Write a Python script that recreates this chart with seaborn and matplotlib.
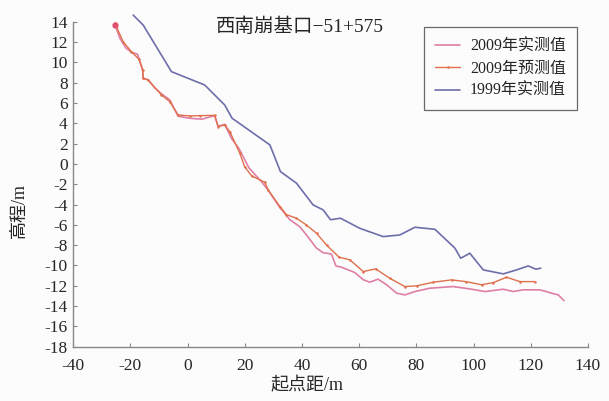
import numpy as np
import pandas as pd
import seaborn as sns
import matplotlib.pyplot as plt

# ----------------------------------------------------------------------------
# data
# ----------------------------------------------------------------------------
x_meas_2009 = [-25.4, -23.5, -21.5, -19.6, -17.5, -16.5, -15.7, -15.5, -13.8, -11.5,
               -9.1, -6.2, -3.3, 0.5, 5.0, 9.5, 10.7, 13.0, 15.4, 18.0,
               21.5, 26.0, 28.2, 32.3, 35.8, 39.3, 41.6, 45.1, 47.4, 50.3,
               51.9, 53.8, 58.5, 61.4, 63.7, 66.6, 69.6, 73.1, 76.0, 79.5,
               84.7, 92.9, 98.5, 104.0, 110.4, 113.9, 117.3, 123.2, 127.3, 129.6, 131.6]
y_meas_2009 = [13.7, 12.3, 11.4, 11.0, 10.8, 10.0, 9.3, 8.4, 8.3, 7.5,
               6.9, 6.3, 4.7, 4.5, 4.4, 4.75, 3.7, 3.9, 2.5, 1.5,
               -0.4, -1.8, -2.6, -4.3, -5.5, -6.2, -7.0, -8.3, -8.74, -8.87,
               -10.05, -10.17, -10.7, -11.4, -11.65, -11.35, -11.9, -12.73, -12.9, -12.57,
               -12.24, -12.08, -12.3, -12.57, -12.34, -12.57, -12.4, -12.4, -12.73, -12.9, -13.46]

x_pred_2009 = [-25.4, -22.5, -19.6, -17.0, -15.7, -15.5, -13.8, -9.1, -6.2, -3.3,
               0.8, 4.3, 9.5, 10.7, 13.0, 14.8, 18.3, 20.0, 22.5, 27.0,
               28.2, 32.3, 34.6, 38.1, 41.5, 45.1, 48.6, 53.0, 56.8, 61.4,
               65.8, 70.7, 76.0, 80.1, 85.9, 92.3, 97.5, 102.8, 106.9, 111.5, 116.2, 121.4]
y_pred_2009 = [13.84, 12.03, 11.05, 10.3, 9.24, 8.43, 8.26, 6.79, 6.13, 4.82,
               4.72, 4.75, 4.78, 3.67, 3.83, 3.17, 1.04, -0.3, -1.2, -1.8,
               -2.57, -4.2, -5.0, -5.35, -6.0, -6.83, -8.0, -9.19, -9.45, -10.6,
               -10.34, -11.26, -12.08, -12.01, -11.65, -11.42, -11.6, -11.9, -11.69, -11.16, -11.59, -11.59]

x_meas_1999 = [-19.0, -15.5, -5.6, 6.0, 13.0, 15.6, 28.8, 32.5, 38.1, 43.9,
               47.4, 50.0, 53.5, 60.2, 68.4, 74.2, 79.5, 86.5, 93.5, 95.5,
               98.7, 103.4, 110.4, 115.0, 119.1, 121.8, 123.5]
y_meas_1999 = [14.66, 13.67, 9.08, 7.77, 5.8, 4.49, 1.87, -0.76, -1.9, -4.04,
               -4.53, -5.5, -5.35, -6.34, -7.16, -7.0, -6.24, -6.44, -8.3, -9.29,
               -8.8, -10.44, -10.83, -10.44, -10.05, -10.37, -10.27]

labels = ["2009年实测值", "2009年预测值", "1999年实测值"]
x_ticks = list(range(-40, 141, 20))
y_ticks = list(range(-18, 15, 2))

# ----------------------------------------------------------------------------
# plot
# ----------------------------------------------------------------------------
sns.set_style("ticks")
plt.rcParams['font.family'] = ['Liberation Serif', 'Noto Sans CJK SC']
plt.rcParams['axes.unicode_minus'] = False

fig = plt.figure(figsize=(6.09, 4.01), dpi=100, facecolor="#fcfcfc")
ax = fig.add_axes([0.120, 0.1354, 0.8455, 0.8105])
ax.set_facecolor("#fcfcfc")

df_meas = pd.DataFrame({"x": x_meas_2009, "y": y_meas_2009})
df_pred = pd.DataFrame({"x": x_pred_2009, "y": y_pred_2009})
df_old = pd.DataFrame({"x": x_meas_1999, "y": y_meas_1999})

sns.lineplot(data=df_meas, x="x", y="y", sort=False, estimator=None, ax=ax,
             color="#e07ea6", linewidth=1.2, label=labels[0])
sns.lineplot(data=df_pred, x="x", y="y", sort=False, estimator=None, ax=ax,
             color="#e0704c", linewidth=1.0, marker="o", markersize=1.8,
             markeredgewidth=0, label=labels[1])
sns.lineplot(data=df_old, x="x", y="y", sort=False, estimator=None, ax=ax,
             color="#6e6eaa", linewidth=1.2, label=labels[2])

for line in ax.get_lines():
    line.set_clip_on(False)

# start points are marked with a small dot
ax.plot(x_meas_2009[0], y_meas_2009[0], "o", color="#e05070", markersize=3.5, clip_on=False)

ax.set_xlim(-40, 140)
ax.set_ylim(-18, 14)
ax.set_xticks(x_ticks)
ax.set_yticks(y_ticks)
ax.tick_params(direction="in", length=3, color="#888888", labelsize=12.5)
ax.tick_params(axis="x", pad=8)
ax.tick_params(axis="y", pad=4)

for side in ["top", "right"]:
    ax.spines[side].set_visible(False)
for side in ["left", "bottom"]:
    ax.spines[side].set_color("#888888")
    ax.spines[side].set_linewidth(1.0)

ax.set_xlabel("起点距/m", fontsize=13)
ax.set_ylabel("高程/m", fontsize=13)
ax.xaxis.set_label_coords(0.455, -0.095)
ax.yaxis.set_label_coords(-0.088, 0.42)

ax.text(0.44, 0.985, "西南崩基口−51+575", transform=ax.transAxes, ha="center", va="center",
        fontsize=14)

leg = ax.legend(loc="upper right", bbox_to_anchor=(0.979, 0.983), borderaxespad=0,
                fontsize=11.5, frameon=True, fancybox=False, edgecolor="#444444",
                handlelength=1.6, handletextpad=0.6, borderpad=0.7, labelspacing=0.4)
leg.get_frame().set_linewidth(0.9)
leg.get_frame().set_facecolor("#fcfcfc")

plt.savefig("out.png", dpi=100, facecolor=fig.get_facecolor())
